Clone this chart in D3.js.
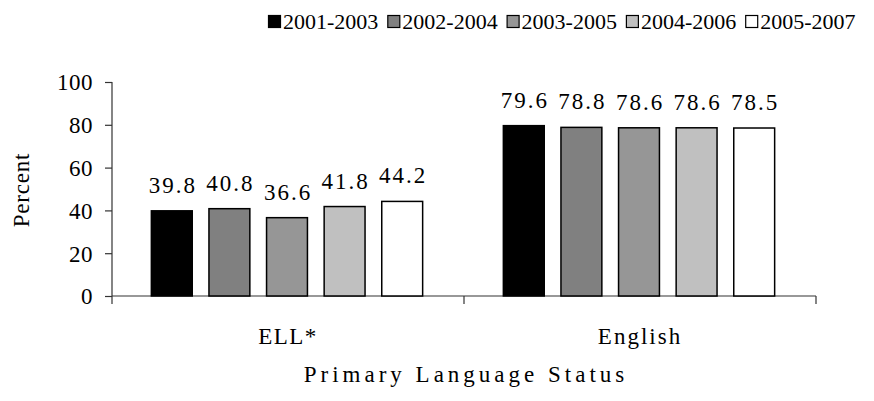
<!DOCTYPE html>
<html>
<head>
<meta charset="utf-8">
<script src="https://cdn.jsdelivr.net/npm/d3@7"></script>
<style>
  html, body { margin: 0; padding: 0; background: #fff; }
  svg text { font-family: "Liberation Serif", "Times New Roman", serif !important; fill: #000; }
</style>
</head>
<body>
<svg id="chart" width="874" height="401"></svg>
<script>
// Share of students by primary language status, per three-year cohort
const categories = ["ELL*", "English"];
const seriesNames = ["2001-2003", "2002-2004", "2003-2005", "2004-2006", "2005-2007"];
const seriesColors = ["#000000", "#808080", "#969696", "#c0c0c0", "#ffffff"];
const values = {
  "ELL*":    [39.8, 40.8, 36.6, 41.8, 44.2],
  "English": [79.6, 78.8, 78.6, 78.6, 78.5]
};
const yTicks = [0, 20, 40, 60, 80, 100];

const FONT = "'Liberation Serif', 'Times New Roman', serif";
const svg = d3.select("#chart");
const m = { left: 112, right: 816, top: 82, bottom: 296 };

const x0 = d3.scaleBand().domain(categories).range([m.left, m.right]).paddingInner(0).paddingOuter(0);
const x1 = d3.scaleBand().domain(seriesNames).range([0, 288]).paddingInner(0.29).paddingOuter(0.145);
const y = d3.scaleLinear().domain([0, 100]).range([m.bottom, m.top]);

// y axis
const yAxis = svg.append("g")
  .attr("transform", `translate(${m.left},0)`)
  .attr("font-family", FONT)
  .call(d3.axisLeft(y).tickValues(yTicks).tickSize(7).tickPadding(12).tickFormat(d3.format("d")));
yAxis.selectAll("text")
  .style("font-size", "23px")
  .style("letter-spacing", "0.5px")
  .attr("dy", "0.34em");

// x axis with ticks at band boundaries
const xAxis = svg.append("g").attr("transform", `translate(0,${m.bottom})`);
xAxis.append("line").attr("x1", m.left).attr("x2", m.right).attr("y1", 0).attr("y2", 0);
const boundaries = [m.left].concat(categories.map(c => x0(c) + x0.bandwidth()));
xAxis.selectAll("line.tick").data(boundaries).join("line").attr("class", "tick")
  .attr("x1", d => d).attr("x2", d => d).attr("y1", 0).attr("y2", 8);
xAxis.selectAll("line").attr("stroke", "#333").attr("stroke-width", 1.2);
yAxis.selectAll("line, path").attr("stroke", "#333").attr("stroke-width", 1.2);
yAxis.select(".domain").attr("d", `M-0,${m.top}V${m.bottom}`);

xAxis.selectAll("text.cat").data(categories).join("text").attr("class", "cat")
  .attr("x", d => x0(d) + x0.bandwidth() / 2)
  .attr("y", 48)
  .attr("text-anchor", "middle")
  .style("font-size", "23px")
  .style("letter-spacing", d => d === "English" ? "2px" : "1.5px")
  .text(d => d);

// bars
const groups = svg.selectAll("g.group").data(categories).join("g")
  .attr("class", "group")
  .attr("transform", d => `translate(${x0(d) + (x0.bandwidth() - 288) / 2 - 1},0)`);

groups.selectAll("rect").data(c => values[c].map((v, i) => ({ v, s: seriesNames[i], i })))
  .join("rect")
  .attr("x", d => x1(d.s))
  .attr("width", x1.bandwidth())
  .attr("y", d => y(d.v))
  .attr("height", d => y(0) - y(d.v))
  .attr("fill", d => seriesColors[d.i])
  .attr("stroke", "#000")
  .attr("stroke-width", 1.5);

groups.selectAll("text.val").data(c => values[c].map((v, i) => ({ v, s: seriesNames[i], i })))
  .join("text")
  .attr("class", "val")
  .attr("x", d => x1(d.s) + x1.bandwidth() / 2 + 1)
  .attr("y", d => y(d.v) - 18)
  .attr("text-anchor", "middle")
  .style("font-size", "23px")
  .style("letter-spacing", "2px")
  .text(d => d3.format(".1f")(d.v));

// axis titles
svg.append("text")
  .attr("transform", "translate(29,190) rotate(-90)")
  .attr("text-anchor", "middle")
  .style("font-size", "23px")
  .style("letter-spacing", "0.8px")
  .text("Percent");

svg.append("text")
  .attr("x", 466)
  .attr("y", 382)
  .attr("text-anchor", "middle")
  .style("font-size", "23px")
  .style("letter-spacing", "4px")
  .text("Primary Language Status");

// legend
const legend = svg.append("g").attr("transform", "translate(268,0)");
const item = legend.selectAll("g").data(seriesNames).join("g")
  .attr("transform", (d, i) => `translate(${i * 119.3},0)`);
item.append("rect")
  .attr("x", 0.5).attr("y", 15.5).attr("width", 12).attr("height", 12)
  .attr("fill", (d, i) => seriesColors[i])
  .attr("stroke", "#000").attr("stroke-width", 1.2);
item.append("text")
  .attr("x", 15).attr("y", 29)
  .style("font-size", "22px")
  .text(d => d);
</script>
</body>
</html>
